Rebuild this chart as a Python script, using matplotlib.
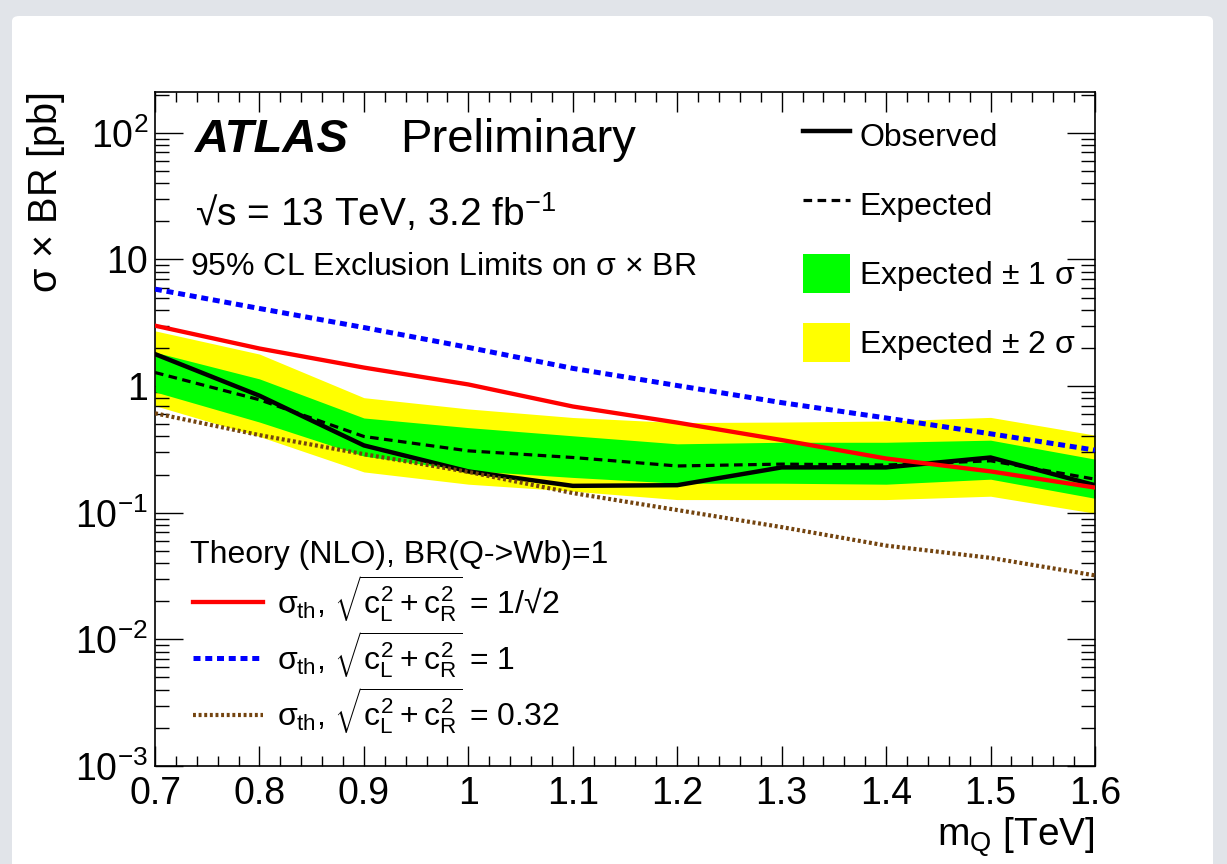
import matplotlib
matplotlib.use('Agg')
import matplotlib.pyplot as plt
from matplotlib.patches import FancyBboxPatch, Patch
from matplotlib.lines import Line2D
from matplotlib.ticker import FixedLocator, FixedFormatter, MultipleLocator, LogLocator, NullFormatter

plt.rcParams['font.family'] = ['Liberation Sans', 'DejaVu Sans']
plt.rcParams['mathtext.fontset'] = 'custom'
plt.rcParams['mathtext.rm'] = 'Liberation Sans'
plt.rcParams['mathtext.it'] = 'Liberation Sans'
plt.rcParams['mathtext.bf'] = 'Liberation Sans:bold'

# heavy quark mass points [TeV]
mass = [0.7, 0.8, 0.9, 1.0, 1.1, 1.2, 1.3, 1.4, 1.5, 1.6]

# 95% CL limits on sigma x BR [pb]
observed = [1.79, 0.84, 0.34, 0.212, 0.163, 0.165, 0.228, 0.228, 0.273, 0.165]
expected = [1.28, 0.78, 0.40, 0.308, 0.273, 0.234, 0.242, 0.238, 0.257, 0.184]
band1_lo = [0.90, 0.52, 0.28, 0.215, 0.19, 0.171, 0.171, 0.168, 0.184, 0.13]
band1_hi = [1.85, 1.14, 0.56, 0.47, 0.405, 0.35, 0.36, 0.36, 0.374, 0.265]
band2_lo = [0.70, 0.40, 0.21, 0.168, 0.148, 0.127, 0.127, 0.127, 0.135, 0.099]
band2_hi = [2.73, 1.79, 0.81, 0.66, 0.565, 0.515, 0.52, 0.53, 0.566, 0.41]

# NLO theory cross sections for three couplings
theory_07 = [3.0, 1.98, 1.40, 1.03, 0.69, 0.515, 0.375, 0.268, 0.212, 0.158]
theory_10 = [5.83, 4.1, 2.9, 2.02, 1.38, 1.01, 0.74, 0.56, 0.42, 0.312]
theory_032 = [0.61, 0.41, 0.29, 0.21, 0.143, 0.105, 0.077, 0.055, 0.044, 0.032]

x_ticks = [0.7, 0.8, 0.9, 1.0, 1.1, 1.2, 1.3, 1.4, 1.5, 1.6]
x_labels = ['0.7', '0.8', '0.9', '1', '1.1', '1.2', '1.3', '1.4', '1.5', '1.6']
y_ticks = [1e-3, 1e-2, 1e-1, 1, 10, 100]
y_labels = [r'$10^{-3}$', r'$10^{-2}$', r'$10^{-1}$', '1', '10', r'$10^{2}$']

W, H = 1227, 864
fig = plt.figure(figsize=(W / 100, H / 100), dpi=100)
fig.patch.set_facecolor('#e1e4e9')
panel = FancyBboxPatch((12 / W, -0.05), 1201 / W, 1.05 - 16 / H,
                       boxstyle='round,pad=0,rounding_size=0.006',
                       transform=fig.transFigure, fc='white', ec='none', zorder=-10)
fig.patches.append(panel)

ax = fig.add_axes([155 / W, 1 - 766 / H, 940 / W, 674 / H])

green = '#00ff00'
yellow = '#ffff00'
brown = '#74440f'

ax.fill_between(mass, band2_lo, band2_hi, color=yellow, lw=0, zorder=1)
ax.fill_between(mass, band1_lo, band1_hi, color=green, lw=0, zorder=2)
ax.plot(mass, expected, color='black', lw=2.3, ls=(0, (2.7, 1.7)), zorder=3)
ax.plot(mass, observed, color='black', lw=3.2, zorder=4)
ax.plot(mass, theory_07, color='#ff0000', lw=3.1, zorder=5)
ax.plot(mass, theory_10, color='#0000ff', lw=3.6, ls=(0, (1.4, 0.95)), zorder=5)
ax.plot(mass, theory_032, color=brown, lw=3.0, ls=(0, (0.7, 0.65)), zorder=5)

ax.set_xlim(0.7, 1.6)
ax.set_yscale('log')
ax.set_ylim(1e-3, 210)

ax.xaxis.set_major_locator(FixedLocator(x_ticks))
ax.xaxis.set_major_formatter(FixedFormatter(x_labels))
ax.xaxis.set_minor_locator(MultipleLocator(0.02))
ax.yaxis.set_major_locator(FixedLocator(y_ticks))
ax.yaxis.set_major_formatter(FixedFormatter(y_labels))
ax.yaxis.set_minor_locator(LogLocator(base=10, subs=range(2, 10), numticks=20))
ax.yaxis.set_minor_formatter(NullFormatter())

ax.tick_params(which='both', direction='in', top=True, right=True, width=1.0, labelsize=27)
ax.tick_params(axis='x', which='major', length=14.5, pad=7)
ax.tick_params(axis='x', which='minor', length=7.2)
ax.tick_params(axis='y', which='major', length=20, pad=5)
ax.tick_params(axis='y', which='minor', length=10)
for s in ax.spines.values():
    s.set_linewidth(1.2)

ax.set_xlabel(r'm$_{\mathrm{Q}}$ [TeV]', fontsize=28, loc='right')
ax.xaxis.set_label_coords(1.0, -0.073)
ax.xaxis.label.set_va('top')
ax.set_ylabel(r'$\sigma$ $\times$ BR [pb]', fontsize=28.5, loc='top')
ax.yaxis.set_label_coords(-0.094, 1.0)

ax.text(0.0426, 0.911, 'ATLAS', transform=ax.transAxes, fontsize=34,
        fontweight='bold', fontstyle='italic', va='baseline')
ax.text(0.2606, 0.911, 'Preliminary', transform=ax.transAxes, fontsize=34, va='baseline')
ax.text(0.0426, 0.801, '\u221As = 13 TeV, 3.2 fb$^{-1}$', transform=ax.transAxes,
        fontsize=28, va='baseline')
ax.text(0.0372, 0.7285, r'95% CL Exclusion Limits on $\sigma$ $\times$ BR',
        transform=ax.transAxes, fontsize=23, va='baseline')
ax.text(0.0372, 0.301, 'Theory (NLO), BR(Q->Wb)=1', transform=ax.transAxes,
        fontsize=23, va='baseline')

# limits legend (top right)
lim_handles = [Line2D([], [], color='black', lw=3.2),
               Line2D([], [], color='black', lw=2.3, ls=(0, (2.7, 1.7))),
               Patch(color=green, lw=0),
               Patch(color=yellow, lw=0)]
lim_labels = ['Observed', 'Expected', r'Expected $\pm$ 1 $\sigma$', r'Expected $\pm$ 2 $\sigma$']
leg1 = ax.legend(lim_handles, lim_labels, loc='upper left', bbox_to_anchor=(0.689, 0.965),
                 frameon=False, fontsize=23, handlelength=1.47, handleheight=1.5,
                 handletextpad=0.3, labelspacing=0.94, borderpad=0, borderaxespad=0)
ax.add_artist(leg1)

# theory legend (bottom left)
th_handles = [Line2D([], [], color='#ff0000', lw=3.1),
              Line2D([], [], color='#0000ff', lw=3.6, ls=(0, (1.4, 0.95))),
              Line2D([], [], color=brown, lw=3.0, ls=(0, (0.7, 0.65)))]
th_labels = [r'$\sigma_{\mathrm{th}}$, $\sqrt{c_{L}^{2} + c_{R}^{2}}$ = 1/' + '\u221A2',
             r'$\sigma_{\mathrm{th}}$, $\sqrt{c_{L}^{2} + c_{R}^{2}}$ = 1',
             r'$\sigma_{\mathrm{th}}$, $\sqrt{c_{L}^{2} + c_{R}^{2}}$ = 0.32']
leg2 = ax.legend(th_handles, th_labels, loc='upper left', bbox_to_anchor=(0.040, 0.286),
                 frameon=False, fontsize=23, handlelength=2.2,
                 handletextpad=0.45, labelspacing=0.16, borderpad=0, borderaxespad=0)

fig.savefig('out.png', dpi=100, facecolor=fig.get_facecolor())
